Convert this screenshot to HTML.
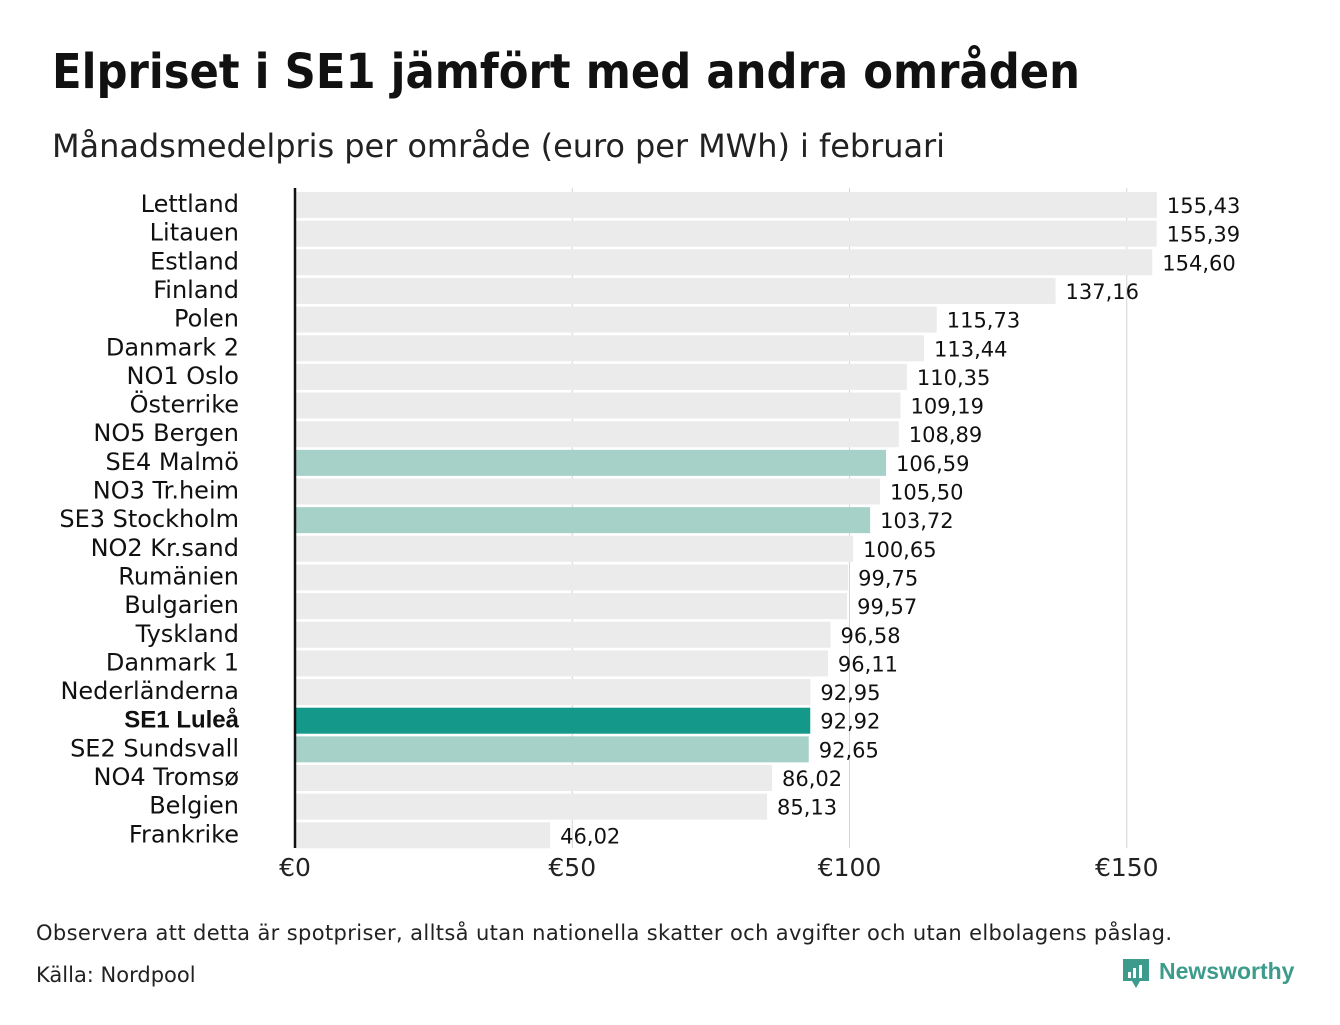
<!DOCTYPE html>
<html><head><meta charset="utf-8"><style>
body{margin:0;background:#fff;width:1340px;height:1020px;overflow:hidden;font-family:"Liberation Sans","DejaVu Sans",sans-serif}
</style></head><body>
<svg width="1340" height="1020" xmlns="http://www.w3.org/2000/svg">
<text x="52" y="88" font-size="48" font-weight="bold" fill="#111" font-family="DejaVu Sans, sans-serif" textLength="1028" lengthAdjust="spacingAndGlyphs">Elpriset i SE1 jämfört med andra områden</text>
<text x="52" y="157" font-size="32" fill="#222" font-family="DejaVu Sans, sans-serif" textLength="893">Månadsmedelpris per område (euro per MWh) i februari</text>
<g id="grid"></g><g id="bars"></g>
<line x1="295" y1="188" x2="295" y2="848" stroke="#111" stroke-width="2.5"/>
<text x="36" y="940" font-size="21" fill="#222" font-family="DejaVu Sans, sans-serif" textLength="1136">Observera att detta är spotpriser, alltså utan nationella skatter och avgifter och utan elbolagens påslag.</text>
<text x="36" y="982" font-size="21" fill="#222" font-family="DejaVu Sans, sans-serif">Källa: Nordpool</text>
<g>
<path d="M1123 959 h26 v22 h-9 l-4 7 l-4 -7 h-9 z" fill="#3d9b8c"/>
<rect x="1128" y="972" width="3" height="6" fill="#fff"/><rect x="1133" y="968" width="3" height="10" fill="#fff"/><rect x="1139" y="965" width="3" height="13" fill="#fff"/>
<text x="1159" y="979" font-size="23" font-weight="bold" fill="#3d9b8c">Newsworthy</text>
</g>
</svg>
<script>
const categories=["Lettland","Litauen","Estland","Finland","Polen","Danmark  2","NO1 Oslo","Österrike","NO5 Bergen","SE4  Malmö","NO3 Tr.heim","SE3  Stockholm","NO2 Kr.sand","Rumänien","Bulgarien","Tyskland","Danmark  1","Nederländerna","SE1 Luleå","SE2  Sundsvall","NO4 Tromsø","Belgien","Frankrike"];
const values=[155.43,155.39,154.60,137.16,115.73,113.44,110.35,109.19,108.89,106.59,105.50,103.72,100.65,99.75,99.57,96.58,96.11,92.95,92.92,92.65,86.02,85.13,46.02];
const highlights=["SE4  Malmö","SE3  Stockholm","SE2  Sundsvall"];
const mainArea="SE1 Luleå";
const ticks=[0,50,100,150];
const tickLabels=["€0","€50","€100","€150"];
const NS="http://www.w3.org/2000/svg";
const x=v=>295+v*5.545;
const y=i=>192+i*28.65;
const grid=document.getElementById('grid'),bars=document.getElementById('bars');
function mk(tag,at,parent){const e=document.createElementNS(NS,tag);for(const k in at)e.setAttribute(k,at[k]);parent.appendChild(e);return e;}
ticks.forEach((t,i)=>{
 if(t>0){const l=mk('line',{x1:x(t),x2:x(t),y1:188,y2:848,stroke:'#d4d4d4','stroke-width':1},grid);
 
 }
 const tx=mk('text',{x:x(t),y:876,'font-size':25,'text-anchor':'middle',fill:'#222','font-family':'DejaVu Sans, sans-serif'},grid);
 tx.textContent=tickLabels[i];
 
 
});
categories.forEach((c,i)=>{
 const v=values[i];
 const fill=c===mainArea?'#14988a':(highlights.includes(c)?'#a6d1c9':'#ebebeb');
 const r=mk('rect',{x:296,y:y(i),width:x(v)-296,height:26,fill:fill},bars);
 
 
 const lb=mk('text',{x:239,y:y(i)+20,'font-size':24,'text-anchor':'end',fill:'#111','font-family':c===mainArea?'Liberation Sans, sans-serif':'DejaVu Sans, sans-serif','font-weight':c===mainArea?'bold':'normal','xml:space':'preserve'},bars);
 lb.textContent=c;
 
 
 const vl=mk('text',{x:x(v)+10,y:y(i)+21,'font-size':21,fill:'#111','font-family':'DejaVu Sans, sans-serif'},bars);
 vl.textContent=v.toFixed(2).replace('.',',');
 
 
});
</script>
</body></html>
